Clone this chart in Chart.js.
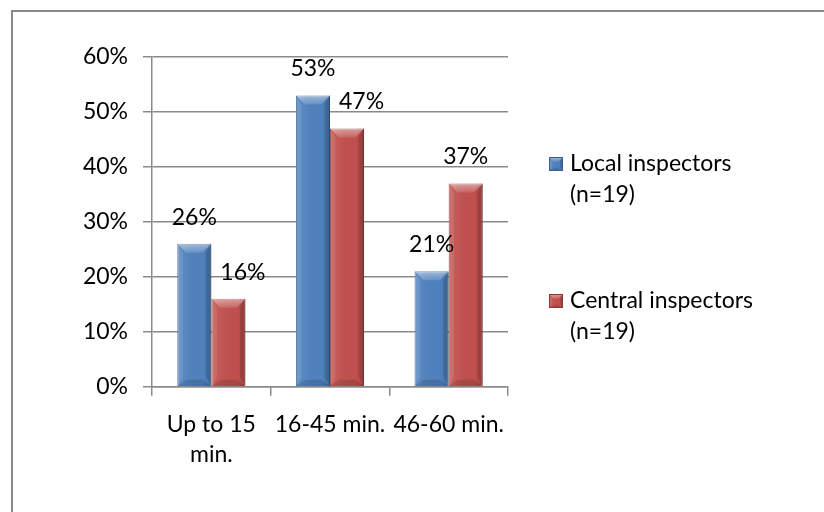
<!DOCTYPE html>
<html>
<head>
<meta charset="utf-8">
<script src="https://cdn.jsdelivr.net/npm/chart.js@4"></script>
<style>
  html, body { margin: 0; padding: 0; background: #ffffff; }
  #wrap { width: 824px; height: 512px; position: relative; }
</style>
</head>
<body>
<div id="wrap"><canvas id="c" width="824" height="512"></canvas></div>
<script>
// Travel time categories and shares of respondents (%)
const categories = [['Up to 15', 'min.'], '16-45 min.', '46-60 min.'];
const localInspectors = [26, 53, 21];
const centralInspectors = [16, 47, 37];
const seriesNames = [['Local inspectors', '(n=19)'], ['Central inspectors', '(n=19)']];
const yTicks = [0, 10, 20, 30, 40, 50, 60];

const FONT = 'Lato, "Open Sans", sans-serif';
const FONT_SIZE = 23;
const palette = [
  { face: '#4F81BD', edge: '#385E8C' },
  { face: '#C0504D', edge: '#8C3836' }
];

// Bevelled column shading drawn over each bar
function bevel(ctx, l, r, top, bottom) {
  const w = r - l, h = bottom - top;
  const b = Math.min(9, h / 2, w / 3);
  ctx.save();
  // left highlight / right shade
  let g = ctx.createLinearGradient(l, 0, r, 0);
  g.addColorStop(0, 'rgba(255,255,255,0.10)');
  g.addColorStop(0.2, 'rgba(255,255,255,0.06)');
  g.addColorStop(0.75, 'rgba(0,0,0,0.0)');
  g.addColorStop(1, 'rgba(0,0,0,0.14)');
  ctx.fillStyle = g;
  ctx.fillRect(l, top, w, h);
  // top bevel
  ctx.beginPath();
  ctx.moveTo(l, top); ctx.lineTo(r, top); ctx.lineTo(r - b, top + b); ctx.lineTo(l + b, top + b);
  ctx.closePath();
  g = ctx.createLinearGradient(0, top, 0, top + b);
  g.addColorStop(0, 'rgba(255,255,255,0.45)');
  g.addColorStop(1, 'rgba(255,255,255,0.12)');
  ctx.fillStyle = g;
  ctx.fill();
  // side bevels
  ctx.beginPath();
  ctx.moveTo(l, top); ctx.lineTo(l + b * 0.6, top + b); ctx.lineTo(l + b * 0.6, bottom - b); ctx.lineTo(l, bottom);
  ctx.closePath();
  ctx.fillStyle = 'rgba(255,255,255,0.10)';
  ctx.fill();
  ctx.beginPath();
  ctx.moveTo(r, top); ctx.lineTo(r - b * 0.6, top + b); ctx.lineTo(r - b * 0.6, bottom - b); ctx.lineTo(r, bottom);
  ctx.closePath();
  ctx.fillStyle = 'rgba(0,0,0,0.12)';
  ctx.fill();
  // bottom bevel
  ctx.beginPath();
  ctx.moveTo(l, bottom); ctx.lineTo(r, bottom); ctx.lineTo(r - b, bottom - b * 0.7); ctx.lineTo(l + b, bottom - b * 0.7);
  ctx.closePath();
  ctx.fillStyle = 'rgba(0,0,0,0.12)';
  ctx.fill();
  ctx.restore();
}

const frameAndExtras = {
  id: 'frameAndExtras',
  beforeDraw(chart) {
    const ctx = chart.ctx;
    ctx.save();
    ctx.fillStyle = '#ffffff';
    ctx.fillRect(0, 0, chart.width, chart.height);
    ctx.strokeStyle = '#8a8a8a';
    ctx.lineWidth = 2;
    ctx.strokeRect(12, 11, chart.width + 50, chart.height + 50);
    ctx.restore();
  },
  afterDatasetsDraw(chart) {
    const ctx = chart.ctx;
    const metas = chart.data.datasets.map((d, i) => chart.getDatasetMeta(i));
    // bevel shading
    metas.forEach(meta => {
      meta.data.forEach(bar => {
        const p = bar.getProps(['x', 'y', 'base', 'width'], true);
        bevel(ctx, p.x - p.width / 2, p.x + p.width / 2, p.y, p.base);
      });
    });
    // value labels above the columns
    ctx.save();
    ctx.font = FONT_SIZE + 'px ' + FONT;
    ctx.fillStyle = '#000000';
    ctx.textBaseline = 'alphabetic';
    ctx.textAlign = 'left';
    metas.forEach((meta, di) => {
      meta.data.forEach((bar, idx) => {
        const p = bar.getProps(['x', 'y', 'width'], true);
        const text = chart.data.datasets[di].data[idx] + '%';
        const tw = ctx.measureText(text).width;
        const baseY = p.y - 19;
        let left = p.x - tw / 2;
        // keep the label clear of a taller neighbouring column
        metas.forEach((other, oi) => {
          if (oi >= di) return;
          const o = other.data[idx].getProps(['x', 'y', 'width'], true);
          const oRight = o.x + o.width / 2;
          if (o.y < baseY && left < oRight) left = oRight + 9;
        });
        ctx.fillText(text, left, baseY);
      });
    });
    ctx.restore();
  },
  afterDraw(chart) {
    // legend on the right
    const ctx = chart.ctx;
    ctx.save();
    ctx.font = FONT_SIZE + 'px ' + FONT;
    ctx.fillStyle = '#000000';
    ctx.textBaseline = 'middle';
    ctx.textAlign = 'left';
    const startY = [164, 301];
    const lineGap = 31;
    chart.data.datasets.forEach((ds, i) => {
      const cy = startY[i];
      const bx = 549, bs = 14;
      ctx.fillStyle = palette[i].face;
      ctx.fillRect(bx, cy - bs / 2, bs, bs);
      bevel(ctx, bx, bx + bs, cy - bs / 2, cy + bs / 2);
      ctx.strokeStyle = palette[i].edge;
      ctx.lineWidth = 1;
      ctx.strokeRect(bx + 0.5, cy - bs / 2 + 0.5, bs - 1, bs - 1);
      ctx.fillStyle = '#000000';
      seriesNames[i].forEach((line, li) => {
        ctx.fillText(line, 570, cy + li * lineGap);
      });
    });
    ctx.restore();
  }
};

new Chart(document.getElementById('c'), {
  type: 'bar',
  data: {
    labels: categories,
    datasets: [
      {
        label: seriesNames[0].join(' '),
        data: localInspectors,
        backgroundColor: palette[0].face,
        borderColor: palette[0].edge,
        borderWidth: 1
      },
      {
        label: seriesNames[1].join(' '),
        data: centralInspectors,
        backgroundColor: palette[1].face,
        borderColor: palette[1].edge,
        borderWidth: 1
      }
    ]
  },
  options: {
    responsive: false,
    animation: false,
    events: [],
    layout: { padding: { top: 57, right: 316, bottom: 0, left: 0 } },
    datasets: { bar: { categoryPercentage: 0.574, barPercentage: 1.0 } },
    plugins: {
      legend: { display: false },
      tooltip: { enabled: false }
    },
    scales: {
      x: {
        grid: { display: true, drawOnChartArea: false, drawTicks: true, tickLength: 9, color: '#8a8a8a', lineWidth: 1.5, offset: true },
        border: { display: true, color: '#8a8a8a', width: 1.5 },
        ticks: { color: '#000000', font: { family: FONT, size: FONT_SIZE, lineHeight: 1.3 }, padding: 14, maxRotation: 0, autoSkip: false },
        afterFit(scale) { scale.height = 125.3; }
      },
      y: {
        min: yTicks[0],
        max: yTicks[yTicks.length - 1],
        afterBuildTicks(scale) { scale.ticks = yTicks.map(v => ({ value: v })); },
        grid: { color: '#8a8a8a', lineWidth: 1.5, tickLength: 9, drawTicks: true },
        border: { display: true, color: '#8a8a8a', width: 1.5 },
        ticks: { color: '#000000', font: { family: FONT, size: FONT_SIZE }, padding: 15, callback: v => v + '%' },
        afterFit(scale) { scale.width = 152; }
      }
    }
  },
  plugins: [frameAndExtras]
});
</script>
</body>
</html>
